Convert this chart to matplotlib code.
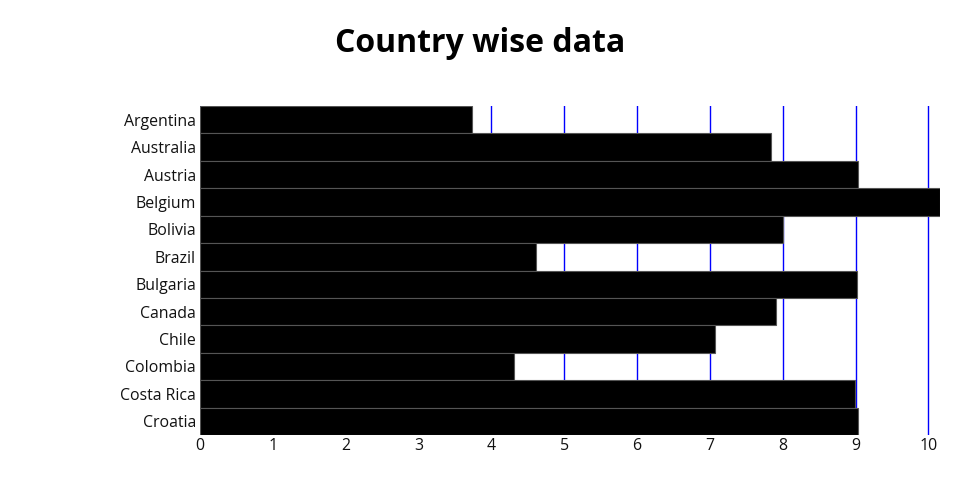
import matplotlib
matplotlib.use("Agg")
import matplotlib.pyplot as plt

countries = ["Argentina", "Australia", "Austria", "Belgium", "Bolivia", "Brazil",
             "Bulgaria", "Canada", "Chile", "Colombia", "Costa Rica", "Croatia"]
values = [3.74, 7.84, 9.03, 10.16, 8.0, 4.62, 9.02, 7.91, 7.07, 4.31, 8.99, 9.03]
xticks = [0, 1, 2, 3, 4, 5, 6, 7, 8, 9, 10]

plt.rcParams['font.family'] = ['Open Sans', 'DejaVu Sans']

fig = plt.figure(figsize=(9.6, 5), dpi=100)
ax = fig.add_axes([200/960, 65/500, 740/960, 329/500])

ax.barh(countries, values, height=1.0, color='black', edgecolor='#555555', linewidth=0.8, zorder=2)
ax.set_xlim(0, max(values))
ax.set_ylim(len(countries) - 0.5, -0.5)
ax.set_xticks(xticks)
ax.xaxis.grid(True, color='blue', linewidth=1, zorder=1)
ax.set_axisbelow(True)
ax.axvline(0, color='blue', linewidth=1.5, zorder=1)
for s in ax.spines.values():
    s.set_visible(False)
ax.tick_params(axis='both', length=0, labelsize=11.4, pad=3, labelcolor='#111111')
ax.tick_params(axis='x', pad=2)

fig.text(480/960, 1 - 43/500, "Country wise data", ha='center', va='center',
         fontsize=23, fontweight='bold')

fig.savefig("out.png", dpi=100)
